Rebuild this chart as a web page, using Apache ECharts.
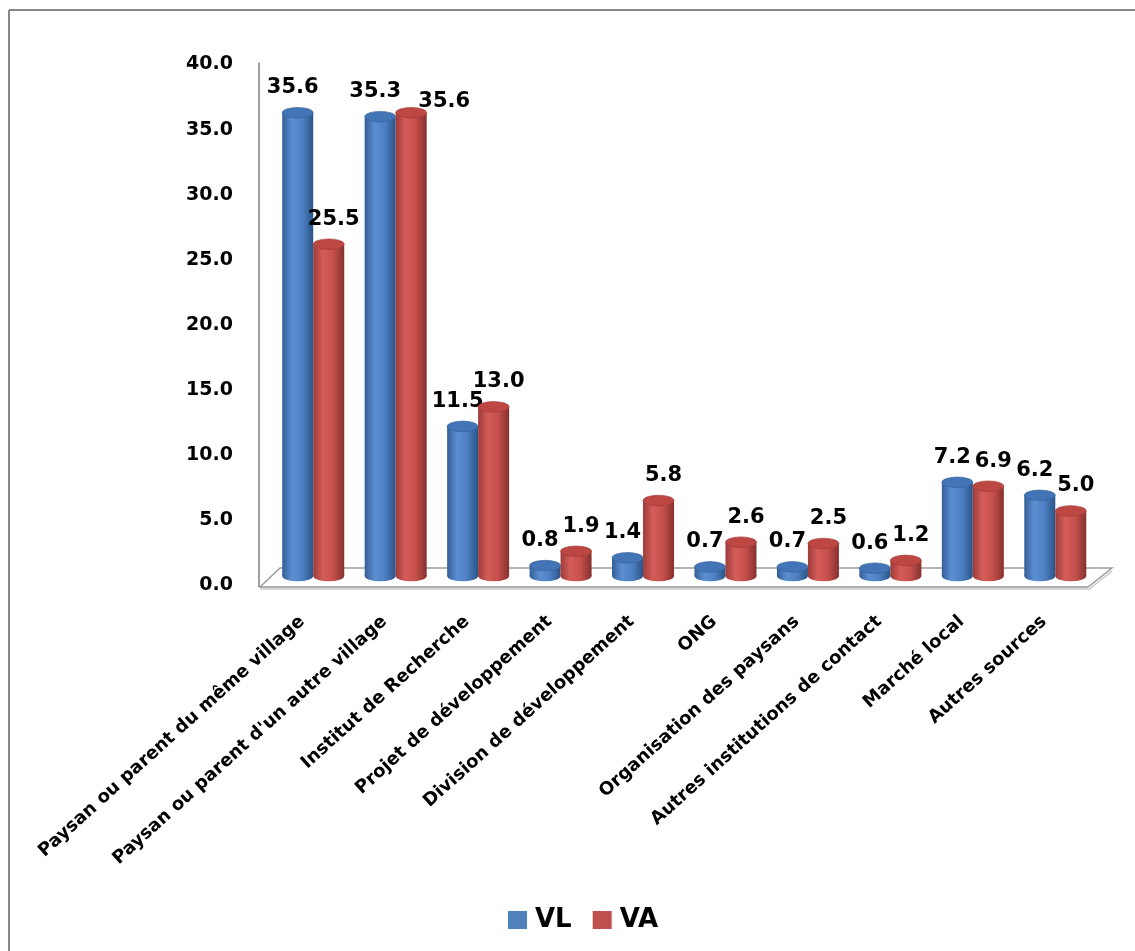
<!DOCTYPE html>
<html>
<head>
<meta charset="utf-8">
<script src="https://cdn.jsdelivr.net/npm/echarts@6/dist/echarts.min.js"></script>
<style>html,body{margin:0;padding:0;background:#fff;overflow:hidden;}#chart{width:1135px;height:951px;}</style>
</head>
<body>
<div id="chart"></div>
<script>
const categories = [
  "Paysan ou parent du même village",
  "Paysan ou parent d'un autre village",
  "Institut de Recherche",
  "Projet de développement",
  "Division de développement",
  "ONG",
  "Organisation des paysans",
  "Autres institutions de contact",
  "Marché local",
  "Autres sources"
];
const seriesNames = ["VL", "VA"];
const vlValues = [35.6, 35.3, 11.5, 0.8, 1.4, 0.7, 0.7, 0.6, 7.2, 6.2];
const vaValues = [25.5, 35.6, 13.0, 1.9, 5.8, 2.6, 2.5, 1.2, 6.9, 5.0];
const yMin = 0, yMax = 40, yInterval = 5;

const FONT = '"DejaVu Sans", "Noto Sans", sans-serif';

const palettes = {
  VL: { legend: '#4F81BD', stops: ['#355f96', '#5b8fd2', '#4d80c2', '#2b5487'], top: '#4374b6', topStroke: '#35629e' },
  VA: { legend: '#C0504D', stops: ['#9c3c39', '#d55d59', '#c44f4b', '#86302d'], top: '#bd4743', topStroke: '#a23b37' }
};

function bodyGrad(p) {
  return new echarts.graphic.LinearGradient(0, 0, 1, 0, [
    { offset: 0, color: p.stops[0] },
    { offset: 0.32, color: p.stops[1] },
    { offset: 0.65, color: p.stops[2] },
    { offset: 1, color: p.stops[3] }
  ]);
}

function makeRender(name, side) {
  const p = palettes[name];
  return function (params, api) {
    const i = api.value(0), v = api.value(1);
    const top = api.coord([i, v]);
    const base = api.coord([i, 0]);
    const band = api.size([1, 0])[0];
    const w = band * 0.376;
    const r = w / 2;
    const cx = top[0] + side * r;
    const depth = 9;
    const topY = top[1] - depth;
    const baseY = base[1] - depth;
    const ry = w * 0.17;
    const sy = ry / r;
    // label placement: shift the VA label aside only if it would collide with the VL label
    let dx = side < 0 ? -5 : 5, dy = -25;
    if (side > 0) {
      const other = vlValues[i];
      const pxPerUnit = Math.abs(api.coord([i, 1])[1] - base[1]);
      const vertGap = (v - other) * pxPerUnit;
      const textW = (s) => s.length * 13;
      const need = (textW(v.toFixed(1)) + textW(other.toFixed(1))) / 2;
      if (vertGap >= 0 && vertGap < 17 && w + 10 < need) { dx = 33; dy = -11; }
    }
    return {
      type: 'group',
      children: [
        { type: 'circle', x: cx, y: baseY, scaleY: sy, shape: { cx: 0, cy: 0, r: r }, style: { fill: bodyGrad(p) } },
        { type: 'rect', shape: { x: cx - r, y: topY, width: w, height: Math.max(0, baseY - topY) }, style: { fill: bodyGrad(p) } },
        { type: 'circle', x: cx, y: topY, scaleY: sy, shape: { cx: 0, cy: 0, r: r }, style: { fill: p.top, stroke: p.topStroke, lineWidth: 1 } },
        { type: 'text', x: cx + dx, y: topY + dy, z2: 100,
          style: { text: v.toFixed(1), font: 'bold 21px ' + FONT, fill: '#000', align: 'center', verticalAlign: 'middle' } }
      ]
    };
  };
}

function renderFloor(params, api) {
  const band = api.size([1, 0])[0];
  const first = api.coord([0, 0]);
  const last = api.coord([categories.length - 1, 0]);
  const topC = api.coord([0, yMax]);
  const x0 = first[0] - band / 2, x1 = last[0] + band / 2;
  const y0 = first[1];
  const fl = [x0 - 12, y0 + 2], bl = [x0 + 8, y0 - 17], br = [x1 + 15.5, y0 - 17], fr = [x1 - 8.5, y0 + 2];
  return {
    type: 'group',
    children: [
      { type: 'polygon', shape: { points: [[fl[0], fl[1]], [fr[0], fr[1]], [fr[0], fr[1] + 3], [fl[0], fl[1] + 3]] }, style: { fill: '#d9d9d9' } },
      { type: 'polygon', shape: { points: [fl, bl, br, fr] }, style: { fill: '#ffffff', stroke: '#9d9d9d', lineWidth: 1.5 } },
      { type: 'line', shape: { x1: fr[0], y1: fr[1] + 3, x2: br[0], y2: br[1] + 3 }, style: { stroke: '#c8c8c8', lineWidth: 1.5 } },
      { type: 'line', shape: { x1: x0 - 13, y1: topC[1] - 2, x2: x0 - 13, y2: y0 + 2 }, style: { stroke: '#a0a0a0', lineWidth: 2 } }
    ]
  };
}

const chart = echarts.init(document.getElementById('chart'));
chart.setOption({
  animation: false,
  backgroundColor: '#ffffff',
  graphic: [
    { type: 'line', shape: { x1: 9, y1: 10, x2: 1140, y2: 10 }, style: { stroke: '#888888', lineWidth: 2 }, z: 0 },
    { type: 'line', shape: { x1: 9, y1: 10, x2: 9, y2: 960 }, style: { stroke: '#888888', lineWidth: 2 }, z: 0 }
  ],
  grid: { left: 272, right: 38.5, top: 64.5, bottom: 366 },
  legend: {
    data: seriesNames,
    left: 508, top: 907, padding: 0,
    icon: 'rect', itemWidth: 19, itemHeight: 18, itemGap: 21,
    textStyle: { fontFamily: FONT, fontWeight: 'bold', fontSize: 26, color: '#000', padding: [0, 0, 0, 3] }
  },
  xAxis: {
    type: 'category',
    data: categories,
    axisLine: { show: false }, axisTick: { show: false }, splitLine: { show: false },
    axisLabel: { interval: 0, rotate: 42, margin: 24, padding: [0, 15, 0, 0],
      fontFamily: FONT, fontWeight: 'bold', fontSize: 18, color: '#000' }
  },
  yAxis: {
    type: 'value', min: yMin, max: yMax, interval: yInterval,
    axisLine: { show: false }, axisTick: { show: false }, splitLine: { show: false },
    axisLabel: { margin: 39, formatter: v => v.toFixed(1), fontFamily: FONT, fontWeight: 'bold', fontSize: 19, color: '#000' }
  },
  series: [
    { type: 'custom', name: 'floor', silent: true, z: 1, data: [[0, 0]], renderItem: renderFloor, encode: { x: 0, y: 1 } },
    { type: 'custom', name: 'VL', z: 2, itemStyle: { color: palettes.VL.legend },
      data: vlValues.map((v, i) => [i, v]), encode: { x: 0, y: 1 }, renderItem: makeRender('VL', -1) },
    { type: 'custom', name: 'VA', z: 3, itemStyle: { color: palettes.VA.legend },
      data: vaValues.map((v, i) => [i, v]), encode: { x: 0, y: 1 }, renderItem: makeRender('VA', 1) }
  ]
});
</script>
</body>
</html>
